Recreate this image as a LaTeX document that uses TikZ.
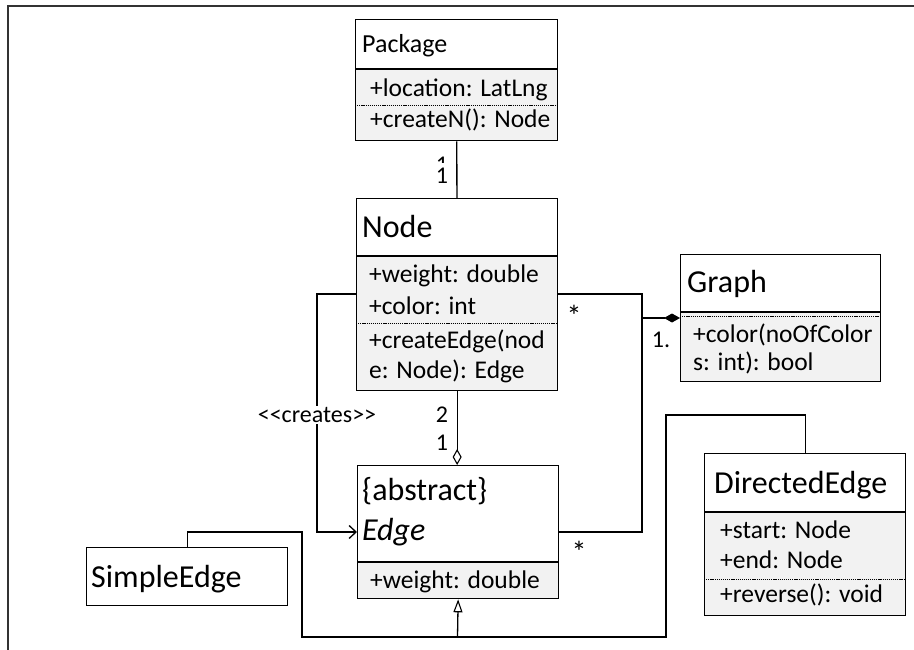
\documentclass[tikz,border=0pt]{standalone}
\usepackage{fontspec}
\setmainfont{Carlito}
\usetikzlibrary{arrows.meta}

\begin{document}
\begin{tikzpicture}[x=1pt,y=-1pt,
	box/.style={draw, line width=1.3pt, inner sep=0pt, anchor=north west},
	attr/.style={fill=black!5},
	sep/.style={line width=0.8pt, dash pattern=on 1.2pt off 0.9pt},
	txt/.style={anchor=base west, inner sep=0pt, font=\fontsize{25.5}{28}\selectfont},
	head/.style={anchor=base west, inner sep=0pt, font=\fontsize{32}{35}\selectfont},
	lbl/.style={inner sep=1pt, font=\fontsize{24}{27}\selectfont},
	star/.style={inner sep=1pt, font=\fontsize{30}{33}\selectfont},
	con/.style={line width=1.3pt},
	]
	\useasboundingbox (0,0) rectangle (914,650);
	% frame
	\draw[line width=1.5pt, black!80] (914,6) -- (8,6) -- (8,650);

	% Package
	\fill[attr] (355,69) rectangle (557,140);
	\node[box, minimum width=202pt, minimum height=121pt] (package) at (355,19) {};
	\draw[con] (355,69) -- (557,69);
	\draw[sep] (355,105) -- (557,105);
	\node[txt, font=\fontsize{26}{29}\selectfont] (packagename) at (362,53) {Package};
	\node[txt] (packagea1) at (370,97) {+location: LatLng};
	\node[txt] (packagem1) at (370,128) {+createN(): Node};

	% Node
	\fill[attr] (356,256) rectangle (557,390);
	\node[box, minimum width=201pt, minimum height=192pt] (gnode) at (356,198) {};
	\draw[con] (356,256) -- (557,256);
	\draw[sep] (356,323) -- (557,323);
	\node[head] (gnodename) at (362,237) {Node};
	\node[txt] (gnodea1) at (369,283) {+weight: double};
	\node[txt] (gnodea2) at (369,314) {+color: int};
	\node[txt] (gnodem1) at (369,348) {+createEdge(nod};
	\node[txt] (gnodem2) at (369,378) {e: Node): Edge};

	% Graph
	\fill[attr] (680,312) rectangle (880,381);
	\node[box, minimum width=200pt, minimum height=127pt] (graph) at (680,254) {};
	\draw[con] (680,312) -- (880,312);
	\draw[sep] (680,316) -- (880,316);
	\node[head] (graphname) at (687,292) {Graph};
	\node[txt] (graphm1) at (693,342) {+color(noOfColor};
	\node[txt] (graphm2) at (693,370) {s: int): bool};

	% Edge
	\fill[attr] (357,562) rectangle (558,598);
	\node[box, minimum width=201pt, minimum height=133pt] (edge) at (357,465) {};
	\draw[con] (357,562) -- (558,562);
	\node[head] (edgestereo) at (362,500) {\{abstract\}};
	\node[head] (edgename) at (362,540) {\textit{Edge}};
	\node[txt] (edgea1) at (370,588) {+weight: double};

	% DirectedEdge
	\fill[attr] (704,512) rectangle (905,615);
	\node[box, minimum width=201pt, minimum height=162pt] (directed) at (704,453) {};
	\draw[con] (704,512) -- (905,512);
	\draw[sep] (704,579) -- (905,579);
	\node[head] (directedname) at (714,493) {DirectedEdge};
	\node[txt] (directeda1) at (720,538) {+start: Node};
	\node[txt] (directeda2) at (720,568) {+end: Node};
	\node[txt] (directedm1) at (720,602) {+reverse(): void};

	% SimpleEdge
	\node[box, minimum width=201pt, minimum height=58pt] (simple) at (86,547) {};
	\node[head] (simplename) at (91,587) {SimpleEdge};

	% Package -- Node
	\draw[con] (package) -- (gnode);
	\begin{scope}
		\clip (420,150) rectangle (455,163);
		\node[lbl] (pkgmult1) at (442,165) {1};
	\end{scope}
	\node[lbl] (pkgmult2) at (442,176) {1};

	% Node -- Edge (aggregation)
	\draw[con, -{Diamond[open, length=16pt, width=9pt, line width=1.1pt]}] (gnode.south) -- (gnode.south |- edge.north);
	\node[lbl] (aggmult2) at (442,415) {2};
	\node[lbl] (aggmult1) at (442,443) {1};

	% creates
	\coordinate (c1) at (317,294);
	\coordinate (c2) at (317,532);
	\draw[con, -{Straight Barb[length=7pt, width=13pt]}] (gnode.west |- c1) -- (c1) -- (c2) -- (edge.west |- c2);
	\node[lbl, fill=white] (creates) at (317,415) {<{}<creates>{}>};

	% Node, Edge -- Graph (composition)
	\coordinate (j1) at (642,294);
	\coordinate (j2) at (642,318);
	\coordinate (j3) at (642,532);
	\draw[con] (gnode.east |- j1) -- (j1) -- (j2);
	\draw[con] (edge.east |- j3) -- (j3) -- (j2);
	\draw[con, -{Diamond[length=16pt, width=9pt]}] (j2) -- (graph.west |- j2);
	\node[star] (gnodemult) at (574,316) {*};
	\node[star] (edgemult) at (579,552) {*};
	\node[lbl] (graphmult) at (661,340) {1.};

	% generalization
	\coordinate (g0) at (457.5,637);
	\coordinate (s2) at (302,532);
	\coordinate (s3) at (302,637);
	\coordinate (d1) at (666,637);
	\coordinate (d2) at (666,415);
	\draw[con] (simple.north) |- (s2) -- (s3) -- (d1) -- (d2) -| (directed.north);
	\draw[con, -{Triangle[open, length=13pt, width=9pt, line width=1.1pt]}] (g0) -- (edge.south);
\end{tikzpicture}
\end{document}
